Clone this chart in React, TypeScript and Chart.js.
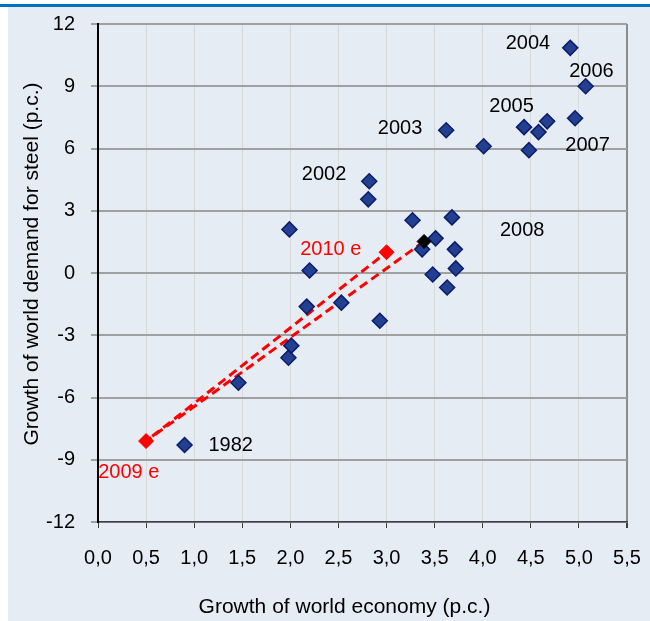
import React, { useEffect, useRef } from "react";
import { Chart, registerables } from "chart.js";

Chart.register(...registerables);

// Growth of world economy (x) vs growth of world demand for steel (y), p.c.
const historyX = [4.91, 5.07, 4.96, 4.67, 4.58, 4.43, 4.48, 4.01, 3.62, 2.82, 2.81, 3.27, 3.68, 3.51, 3.37, 3.71, 3.72, 3.48, 3.63, 2.93, 0.9, 1.46, 1.98, 2.01, 2.17, 2.53, 2.2, 1.99];
const historyY = [10.85, 9.0, 7.46, 7.31, 6.79, 7.03, 5.92, 6.11, 6.88, 4.42, 3.55, 2.54, 2.68, 1.67, 1.14, 1.14, 0.22, -0.07, -0.7, -2.3, -8.29, -5.29, -4.08, -3.5, -1.62, -1.43, 0.12, 2.1];

const year2008X = [3.39];
const year2008Y = [1.52];

const estimateX = [0.5, 3.0];
const estimateY = [-8.1, 1.0];

// dashed path: 2008 -> 2009 e -> 2010 e
const pathX = [3.39, 0.5, 3.0];
const pathY = [1.52, -8.1, 1.0];

const xTickValues = [0, 0.5, 1, 1.5, 2, 2.5, 3, 3.5, 4, 4.5, 5, 5.5];
const yTickValues = [-12, -9, -6, -3, 0, 3, 6, 9, 12];

const annotationTexts = ["2004", "2006", "2005", "2003", "2007", "2008", "2002", "2010 e", "1982", "2009 e"];
const annotationX = [4.47, 5.13, 4.3, 3.14, 5.09, 4.41, 2.35, 2.42, 1.38, 0.32];
const annotationY = [11.04, 9.69, 8.04, 6.98, 6.16, 2.05, 4.76, 1.13, -8.29, -9.63];
const annotationIsEstimate = [false, false, false, false, false, false, false, true, false, true];

const xTitle = "Growth of world economy (p.c.)";
const yTitle = "Growth of world demand for steel (p.c.)";

const FONT = '"Liberation Sans", Arial, sans-serif';
const BLUE_FILL = "#22408F";
const BLUE_EDGE = "#0B1C6B";
const RED = "#FF0000";

const toPoints = (xs: number[], ys: number[]) => xs.map((x, i) => ({ x, y: ys[i] }));

const annotationPlugin = {
  id: "yearLabels",
  afterDatasetsDraw(chart: any) {
    const ctx = chart.ctx;
    const xs = chart.scales.x;
    const ys = chart.scales.y;
    const area = chart.chartArea;
    ctx.save();
    ctx.font = `20px ${FONT}`;
    ctx.textAlign = "center";
    ctx.textBaseline = "middle";
    annotationTexts.forEach((t, i) => {
      ctx.fillStyle = annotationIsEstimate[i] ? RED : "#000000";
      ctx.fillText(t, xs.getPixelForValue(annotationX[i]), ys.getPixelForValue(annotationY[i]));
    });
    // axis titles
    ctx.fillStyle = "#000000";
    ctx.font = `21px ${FONT}`;
    ctx.fillText(xTitle, (area.left + area.right) / 2 - 18, 607);
    ctx.translate(32, (area.top + area.bottom) / 2 - 9);
    ctx.rotate(-Math.PI / 2);
    ctx.fillText(yTitle, 0, 0);
    ctx.restore();
  },
};

function SteelChart() {
  const ref = useRef<HTMLCanvasElement | null>(null);
  useEffect(() => {
    if (!ref.current) return;
    const chart = new Chart(ref.current, {
      type: "scatter",
      data: {
        datasets: [
          {
            label: "2008",
            data: toPoints(year2008X, year2008Y),
            pointStyle: "rectRot",
            pointRadius: 7,
            backgroundColor: "#000000",
            borderColor: "#000000",
            borderWidth: 1,
            order: 0,
          },
          {
            label: "estimates",
            data: toPoints(estimateX, estimateY),
            pointStyle: "rectRot",
            pointRadius: 7.5,
            backgroundColor: RED,
            borderColor: RED,
            borderWidth: 1,
            order: 1,
          },
          {
            label: "history",
            data: toPoints(historyX, historyY),
            pointStyle: "rectRot",
            pointRadius: 7.5,
            backgroundColor: BLUE_FILL,
            borderColor: BLUE_EDGE,
            borderWidth: 1.5,
            order: 2,
          },
          {
            label: "path",
            data: toPoints(pathX, pathY),
            showLine: true,
            pointRadius: 0,
            borderColor: RED,
            borderWidth: 3,
            borderDash: [9, 5],
            fill: false,
            order: 3,
          } as any,
        ],
      },
      options: {
        responsive: false,
        animation: false,
        events: [],
        layout: { padding: { top: 24, right: 23, left: 0, bottom: 0 } },
        plugins: { legend: { display: false }, tooltip: { enabled: false } },
        scales: {
          x: {
            type: "linear",
            min: 0,
            max: 5.5,
            afterFit: (s: any) => {
              s.height = 99;
              s.paddingLeft = 0;
              s.paddingRight = 0;
            },
            afterBuildTicks: (s: any) => {
              s.ticks = xTickValues.map((v) => ({ value: v }));
            },
            ticks: {
              color: "#000000",
              font: { family: FONT, size: 20 },
              padding: 18,
              callback: (v: any) => Number(v).toFixed(1).replace(".", ","),
            },
            grid: {
              color: (c: any) => (c.tick && c.tick.value === 5.5 ? "#8C8C8C" : "#D9D9D9"),
              lineWidth: (c: any) => (c.tick && c.tick.value === 5.5 ? 2 : 1),
              tickColor: "#404040",
              tickLength: 6,
              drawTicks: true,
            },
            border: { display: true, color: "#404040", width: 1.5 },
            title: { display: false },
          },
          y: {
            type: "linear",
            min: -12,
            max: 12,
            afterFit: (s: any) => {
              s.width = 98;
              s.paddingTop = 0;
              s.paddingBottom = 0;
            },
            afterBuildTicks: (s: any) => {
              s.ticks = yTickValues.map((v) => ({ value: v }));
            },
            ticks: {
              color: "#000000",
              font: { family: FONT, size: 20 },
              padding: 16,
            },
            grid: {
              color: "#A0A0A0",
              lineWidth: 2,
              tickColor: "#A0A0A0",
              tickLength: 7,
            },
            border: { display: true, color: "#000000", width: 2 },
            title: { display: false },
          },
        },
      },
      plugins: [annotationPlugin],
    });
    return () => chart.destroy();
  }, []);
  return <canvas ref={ref} width={650} height={621} style={{ position: "absolute", left: 0, top: 0 }} />;
}

export default function App() {
  return (
    <div style={{ position: "absolute", left: 0, top: 0, width: 650, height: 621, background: "#FFFFFF", overflow: "hidden" }}>
      <div style={{ position: "absolute", left: 0, top: 4, width: 650, height: 3, background: "#0070C0" }} />
      <div style={{ position: "absolute", left: 8, top: 7, width: 642, height: 614, background: "#E6ECF4" }} />
      <SteelChart />
    </div>
  );
}
